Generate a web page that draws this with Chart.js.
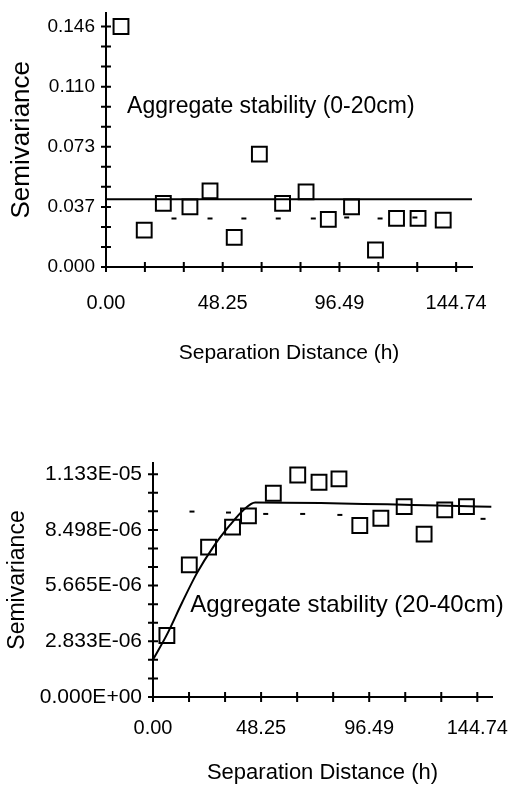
<!DOCTYPE html>
<html>
<head>
<meta charset="utf-8">
<script src="https://cdn.jsdelivr.net/npm/chart.js@4"></script>
<style>
  body { margin: 0; background: #fff; overflow: hidden; width: 512px; height: 787px; position: relative; }
  .box { position: absolute; left: 0; width: 512px; }
  #topBox { top: 0; height: 380px; }
  #bottomBox { top: 440px; height: 360px; }
</style>
</head>
<body>
<div class="box" id="topBox"><canvas id="chartTop"></canvas></div>
<div class="box" id="bottomBox"><canvas id="chartBottom"></canvas></div>
<script>
// shared x axis (separation distance)
const xTickLabels = ['0.00', '48.25', '96.49', '144.74'];
const xTickMax = 144.74;
const xAxisMax = 151.3;

// aggregate stability 0-20cm
const distTop = [6.2, 15.8, 23.7, 34.7, 43.0, 53.0, 63.4, 73.0, 82.7, 91.9, 101.5, 111.4, 120.1, 129.0, 139.4];
const semiTop = [0.146, 0.0224, 0.0386, 0.0365, 0.0462, 0.018, 0.0685, 0.0386, 0.0456, 0.0289, 0.0365, 0.0103, 0.0295, 0.0295, 0.0285];
const dashDistTop = [28.1, 43.0, 57.0, 71.2, 85.7, 99.5, 113.3, 127.7];
const dashSemiTop = [0.0295, 0.0295, 0.0295, 0.0295, 0.0295, 0.0300, 0.0295, 0.0300];
const modelDistTop = [0, 151.3];
const modelSemiTop = [0.0412, 0.0412];
const yTickLabelsTop = ['0.000', '0.037', '0.073', '0.110', '0.146'];
const yTickMaxTop = 0.146;
const yAxisMaxTop = 0.1545;

// aggregate stability 20-40cm
const distBottom = [6.2, 16.2, 24.8, 35.5, 42.6, 53.7, 64.6, 74.1, 83.0, 92.3, 101.7, 112.1, 121.0, 130.2, 139.9];
const semiBottom = [3.13e-6, 6.72e-6, 7.62e-6, 8.64e-6, 9.21e-6, 1.036e-5, 1.129e-5, 1.092e-5, 1.109e-5, 8.72e-6, 9.09e-6, 9.68e-6, 8.28e-6, 9.52e-6, 9.68e-6];
const dashDistBottom = [17.4, 33.7, 50.3, 66.8, 83.4, 147.3];
const dashSemiBottom = [9.43e-6, 9.38e-6, 9.31e-6, 9.31e-6, 9.26e-6, 9.06e-6];
const modelDistBottom = [0, 6.2, 12.9, 19.6, 27.0, 34.4, 40.4, 45.6, 151.0];
const modelSemiBottom = [1.90e-6, 3.17e-6, 4.78e-6, 6.30e-6, 7.65e-6, 8.75e-6, 9.51e-6, 9.89e-6, 9.68e-6];
const yTickLabelsBottom = ['0.000E+00', '2.833E-06', '5.665E-06', '8.498E-06', '1.133E-05'];
const yTickMaxBottom = 1.133e-5;
const yAxisMaxBottom = 1.19e-5;

const pts = (xs, ys) => xs.map((x, i) => ({ x: x, y: ys[i] }));

// tick marks that cross the axis lines
const crossTicks = {
  id: 'crossTicks',
  afterDraw(chart) {
    const ctx = chart.ctx;
    const xs = chart.scales.x, ys = chart.scales.y;
    ctx.save();
    ctx.strokeStyle = '#000';
    ctx.lineWidth = 2;
    ctx.beginPath();
    xs.ticks.forEach(t => {
      const px = xs.getPixelForValue(t.value);
      ctx.moveTo(px, ys.bottom - 5);
      ctx.lineTo(px, ys.bottom + 5);
    });
    ys.ticks.forEach(t => {
      const py = ys.getPixelForValue(t.value);
      ctx.moveTo(xs.left - 5, py);
      ctx.lineTo(xs.left + 5, py);
    });
    ctx.stroke();
    ctx.restore();
  }
};

const note = {
  id: 'note',
  afterDatasetsDraw(chart, args, opts) {
    const ctx = chart.ctx;
    ctx.save();
    ctx.font = opts.font;
    ctx.fillStyle = '#000';
    ctx.textBaseline = 'middle';
    ctx.fillText(opts.text, chart.scales.x.getPixelForValue(opts.x), chart.scales.y.getPixelForValue(opts.y));
    ctx.restore();
  }
};

const font = "'Liberation Sans', Arial, sans-serif";

function makeChart(id, s) {
  new Chart(document.getElementById(id), {
    type: 'scatter',
    data: {
      datasets: [{
        data: pts(s.dist, s.semi),
        pointStyle: 'rect',
        pointRadius: 10.5,
        borderColor: '#000',
        backgroundColor: 'rgba(0,0,0,0)',
        borderWidth: 2
      }, {
        data: pts(s.dashDist, s.dashSemi),
        pointStyle: 'line',
        pointRadius: 2.5,
        borderColor: '#000',
        borderWidth: 2
      }, {
        data: pts(s.modelDist, s.modelSemi),
        showLine: true,
        pointRadius: 0,
        borderColor: '#000',
        borderWidth: 2,
        cubicInterpolationMode: 'monotone'
      }]
    },
    options: {
      responsive: true,
      maintainAspectRatio: false,
      animation: false,
      layout: { padding: { top: s.padTop, right: s.padRight, left: 0, bottom: 0 } },
      scales: {
        x: {
          type: 'linear',
          min: 0,
          max: xAxisMax,
          afterBuildTicks: sc => { sc.ticks = Array.from({ length: 10 }, (_, i) => ({ value: xTickMax * i / 9 })); },
          afterFit: sc => { sc.height = s.xAxisHeight; sc.paddingLeft = 0; sc.paddingRight = 0; },
          border: { display: true, color: '#000', width: 2 },
          grid: { display: false, drawTicks: false, tickLength: 0 },
          ticks: {
            autoSkip: false,
            maxRotation: 0,
            color: '#000',
            padding: s.xTickPad,
            font: { family: font, size: s.xTickSize },
            callback: (v, i) => i % 3 === 0 ? xTickLabels[i / 3] : ''
          },
          title: {
            display: true,
            text: 'Separation Distance (h)',
            color: '#000',
            font: { family: font, size: s.xTitleSize },
            padding: { top: 0, bottom: s.xTitlePad }
          }
        },
        y: {
          type: 'linear',
          min: 0,
          max: s.yAxisMax,
          afterBuildTicks: sc => { sc.ticks = Array.from({ length: 13 }, (_, i) => ({ value: s.yTickMax * i / 12 })); },
          afterFit: sc => { sc.width = s.yAxisWidth; sc.paddingTop = 0; sc.paddingBottom = 0; },
          border: { display: true, color: '#000', width: 2 },
          grid: { display: false, drawTicks: false, tickLength: 0 },
          ticks: {
            autoSkip: false,
            color: '#000',
            padding: 11,
            font: { family: font, size: s.yTickSize },
            callback: (v, i) => i % 3 === 0 ? s.yLabels[i / 3] : ''
          },
          title: {
            display: true,
            text: 'Semivariance',
            color: '#000',
            font: { family: font, size: s.yTitleSize },
            padding: { top: s.yTitlePad, bottom: 0 }
          }
        }
      },
      plugins: {
        legend: { display: false },
        tooltip: { enabled: false },
        note: { text: s.noteText, x: s.noteX, y: s.noteY, font: s.noteFont }
      }
    },
    plugins: [crossTicks, note]
  });
}

makeChart('chartTop', {
  dist: distTop, semi: semiTop,
  dashDist: dashDistTop, dashSemi: dashSemiTop,
  modelDist: modelDistTop, modelSemi: modelSemiTop,
  yLabels: yTickLabelsTop, yTickMax: yTickMaxTop, yAxisMax: yAxisMaxTop,
  padTop: 12, padRight: 40, yAxisWidth: 106, xAxisHeight: 113,
  xTickSize: 20, yTickSize: 19, xTickPad: 24,
  xTitleSize: 21, xTitlePad: 14, yTitleSize: 26, yTitlePad: 6,
  noteText: 'Aggregate stability (0-20cm)', noteX: 8.7, noteY: 0.0975,
  noteFont: "23px " + font
});

makeChart('chartBottom', {
  dist: distBottom, semi: semiBottom,
  dashDist: dashDistBottom, dashSemi: dashSemiBottom,
  modelDist: modelDistBottom, modelSemi: modelSemiBottom,
  yLabels: yTickLabelsBottom, yTickMax: yTickMaxBottom, yAxisMax: yAxisMaxBottom,
  padTop: 23, padRight: 20, yAxisWidth: 153, xAxisHeight: 103,
  xTickSize: 20, yTickSize: 21, xTickPad: 19,
  xTitleSize: 22, xTitlePad: 14, yTitleSize: 23, yTitlePad: 4,
  noteText: 'Aggregate stability (20-40cm)', noteX: 16.6, noteY: 4.65e-6,
  noteFont: "24px " + font
});
</script>
</body>
</html>
